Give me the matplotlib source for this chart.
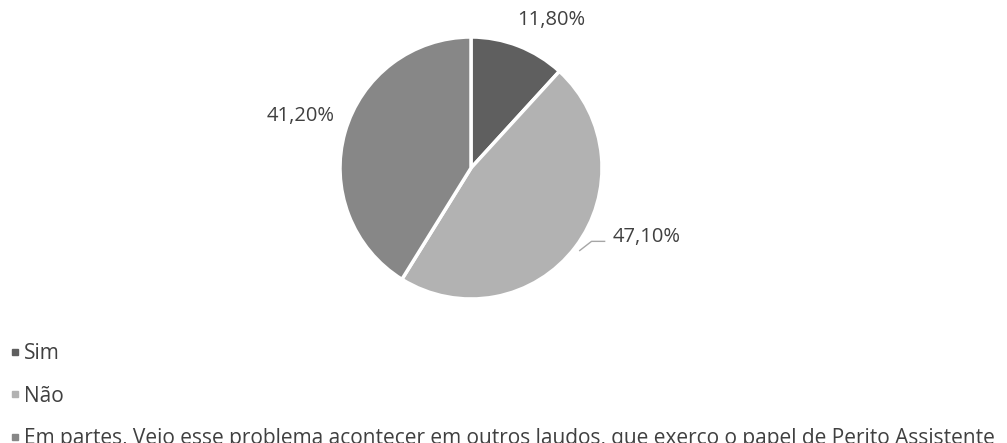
import matplotlib
matplotlib.use("Agg")
import matplotlib.pyplot as plt
from matplotlib.lines import Line2D

categories = ["Sim", "Não",
              "Em partes, Vejo esse problema acontecer em outros laudos, que exerço o papel de Perito Assistente"]
values = [11.8, 47.1, 41.2]
labels = ["11,80%", "47,10%", "41,20%"]
colors = ["#5f5f5f", "#b2b2b2", "#878787"]

plt.rcParams["font.family"] = ["Open Sans", "DejaVu Sans"]
text_color = "#404040"

W, H = 1007, 443
fig = plt.figure(figsize=(W / 100, H / 100), dpi=100)

# pie centre (471,168) px, radius 131 px
cx, cy, r = 471, 168, 131
ax = fig.add_axes([(cx - r) / W, (H - cy - r) / H, 2 * r / W, 2 * r / H])
ax.pie(values, colors=colors, startangle=90, counterclock=False,
       wedgeprops=dict(edgecolor="white", linewidth=2.5))
ax.set_xlim(-1, 1)
ax.set_ylim(-1, 1)
ax.set_aspect("equal")
ax.axis("off")

# data labels
label_pos = [(0.61, 1.13), (1.34, -0.53), (-1.30, 0.40)]
for (x, y), lab in zip(label_pos, labels):
    ax.text(x, y, lab, ha="center", va="center", fontsize=14.5,
            color=text_color, clip_on=False)
ax.plot([0.83, 0.92, 1.02], [-0.63, -0.56, -0.56], color="#a6a6a6",
        lw=1, clip_on=False)

handles = [Line2D([], [], marker="s", linestyle="none", markersize=5,
                  markerfacecolor=c, markeredgecolor=c) for c in colors]
fig.legend(handles, categories, loc="upper left",
           bbox_to_anchor=(2 / W, 1 - 335 / H), frameon=False,
           fontsize=15, labelspacing=1.03, handlelength=0.45,
           handletextpad=0.2, borderaxespad=0, labelcolor=text_color)

fig.savefig("out.png", dpi=100)
